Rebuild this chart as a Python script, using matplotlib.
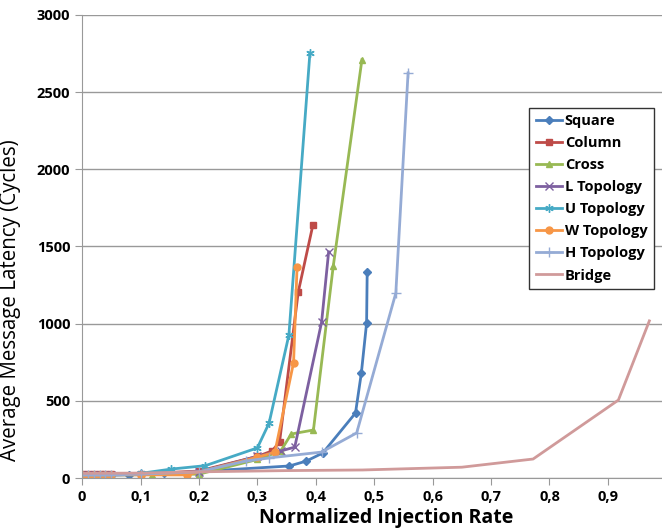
import matplotlib.pyplot as plt
from matplotlib.ticker import FuncFormatter

plt.rcParams['font.family'] = ['Open Sans', 'DejaVu Sans']

low_x = [0, 0.01, 0.02, 0.03, 0.04, 0.05]

square_x = low_x + [0.08, 0.1, 0.14, 0.2, 0.355, 0.384, 0.412, 0.468, 0.478, 0.487, 0.488]
square_y = [20, 20, 20, 20, 20, 20, 22, 25, 30, 42, 78, 110, 162, 421, 680, 1004, 1335]

column_x = low_x + [0.1, 0.2, 0.3, 0.325, 0.338, 0.37, 0.395]
column_y = [25, 25, 25, 25, 25, 25, 27, 45, 140, 175, 233, 1205, 1638]

cross_x = low_x + [0.12, 0.2, 0.3, 0.34, 0.358, 0.396, 0.43, 0.479]
cross_y = [20, 20, 20, 20, 20, 20, 22, 25, 120, 175, 285, 311, 1375, 2710]

l_x = low_x + [0.1, 0.2, 0.3, 0.34, 0.364, 0.41, 0.422]
l_y = [20, 20, 20, 20, 20, 20, 22, 40, 140, 175, 200, 1010, 1465]

u_x = low_x + [0.1, 0.153, 0.211, 0.3, 0.32, 0.354, 0.39]
u_y = [22, 22, 22, 22, 22, 22, 30, 58, 80, 195, 355, 927, 2755]

w_x = low_x + [0.1, 0.18, 0.3, 0.33, 0.362, 0.368]
w_y = [22, 22, 22, 22, 22, 22, 20, 20, 135, 167, 748, 1370]

h_x = low_x + [0.1, 0.2, 0.28, 0.32, 0.41, 0.47, 0.537, 0.558]
h_y = [20, 20, 20, 20, 20, 20, 25, 40, 110, 130, 168, 292, 1198, 2625]

bridge_x = [0, 0.1, 0.2, 0.35, 0.48, 0.65, 0.772, 0.918, 0.971]
bridge_y = [30, 32, 40, 48, 52, 70, 123, 505, 1018]

series = [
    ('Square', square_x, square_y, '#4A7EBB', 'D', 4),
    ('Column', column_x, column_y, '#BE4B48', 's', 4.5),
    ('Cross', cross_x, cross_y, '#98B954', '^', 5),
    ('L Topology', l_x, l_y, '#7D60A0', 'x', 5.5),
    ('U Topology', u_x, u_y, '#46AAC5', (6, 2, 0), 6),
    ('W Topology', w_x, w_y, '#F79646', 'o', 5),
    ('H Topology', h_x, h_y, '#95ABD5', '+', 7),
    ('Bridge', bridge_x, bridge_y, '#D09A9A', None, 0),
]

fig = plt.figure(figsize=(6.62, 5.31), dpi=100)
ax = fig.add_axes([0.124, 0.0998, 0.8825, 0.872])

for name, xs, ys, color, marker, ms in series:
    ax.plot(xs, ys, color=color, lw=2, marker=marker, markersize=ms,
            markeredgewidth=1, label=name)

ax.set_xlim(0, 1)
ax.set_ylim(0, 3000)
ax.set_xticks([i / 10 for i in range(11)])
ax.set_yticks(range(0, 3001, 500))
ax.xaxis.set_major_formatter(FuncFormatter(lambda v, p: ('%g' % round(v, 1)).replace('.', ',')))

ax.grid(True, axis='y', color='#999999', lw=1)
ax.set_axisbelow(True)
for s in ['top', 'right']:
    ax.spines[s].set_visible(False)
for s in ['left', 'bottom']:
    ax.spines[s].set_color('#999999')
ax.tick_params(colors='#999999', length=5, labelcolor='black', labelsize=10.5)
for lab in ax.get_xticklabels() + ax.get_yticklabels():
    lab.set_fontweight('bold')

ax.set_xlabel('Normalized Injection Rate', fontsize=14, fontweight='bold')
ax.xaxis.set_label_coords(0.521, -0.064)
ax.set_ylabel('Average Message Latency (Cycles)', fontsize=14.8)
ax.yaxis.set_label_coords(-0.105, 0.385)

leg = ax.legend(loc='upper right', bbox_to_anchor=(0.988, 0.797), bbox_transform=fig.transFigure,
                borderaxespad=0, fancybox=False, edgecolor='#333333', framealpha=1,
                handlelength=1.8, handletextpad=0.2, labelspacing=0.55, borderpad=0.45,
                prop={'weight': 'bold', 'size': 10.5})
leg.get_frame().set_linewidth(1)

fig.savefig('out.png', dpi=100)
